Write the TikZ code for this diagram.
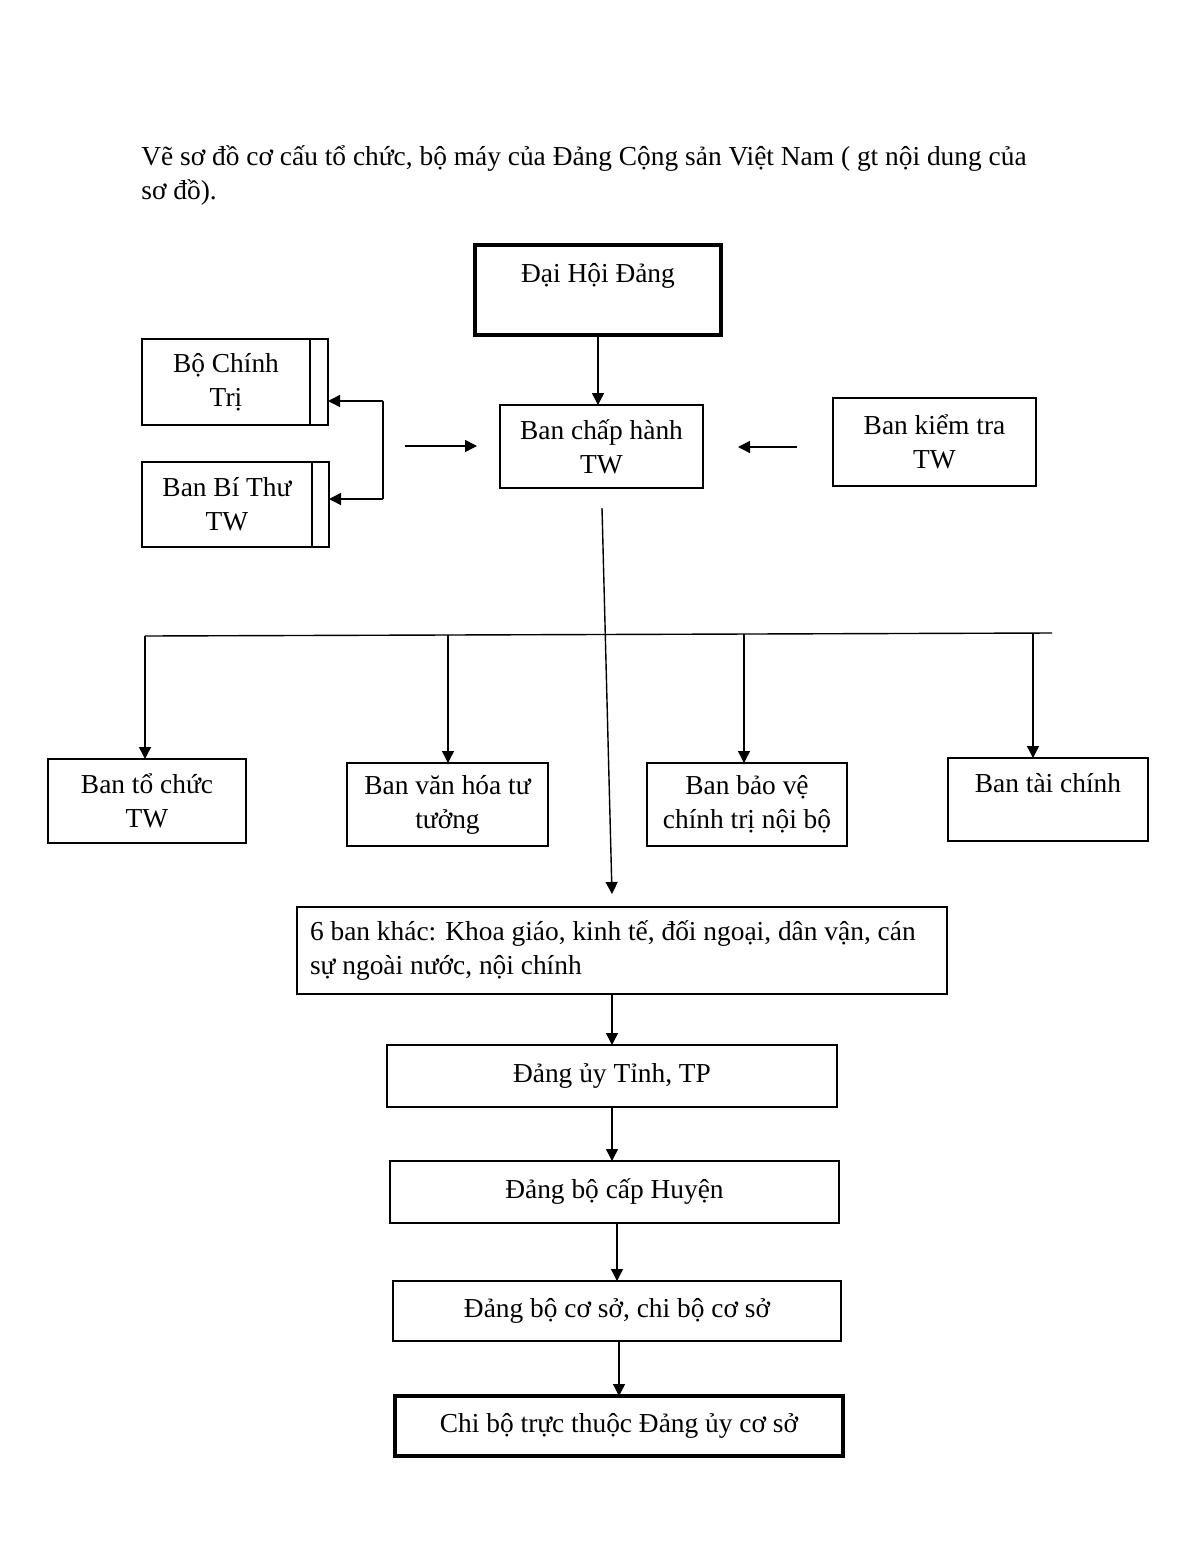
\documentclass[tikz,border=0pt]{standalone}
\usepackage{fontspec}
\setmainfont{Liberation Serif}
\usetikzlibrary{arrows.meta}
\begin{document}
\begin{tikzpicture}[x=0.5pt,y=-0.5pt,
  font=\fontsize{13.7}{17}\selectfont,
  box/.style={draw, line width=0.9pt, inner sep=0pt, outer sep=0pt, align=center},
  thickbox/.style={box, line width=1.8pt},
  conn/.style={line width=0.7pt, -{Triangle[length=6pt,width=6pt]}},
  plain/.style={line width=0.7pt}]
\useasboundingbox (0,0) rectangle (1200,1553);

% title
\node[anchor=west, align=left, inner sep=0pt] (title) at (141,175)
  {Vẽ sơ đồ cơ cấu tổ chức, bộ máy của Đảng Cộng sản Việt Nam ( gt nội dung của\\ sơ đồ).};

% boxes
\node[thickbox, minimum width=123pt, minimum height=45pt] (dh) at (598,290) {Đại Hội Đảng\\~};
\node[box, minimum width=84pt, minimum height=43pt] (bct) at (226,382) {Bộ Chính\\Trị};
\node[box, minimum width=9pt, minimum height=43pt, anchor=west] (bcts) at (bct.east) {};
\node[box, line width=1.1pt, minimum width=85pt, minimum height=42.5pt] (bbt) at (227,504.5) {Ban Bí Thư\\TW};
\node[box, line width=1.1pt, minimum width=8.5pt, minimum height=42.5pt, anchor=west] (bbts) at (bbt.east) {};
\node[box, minimum width=101.5pt, minimum height=41.5pt] (bch) at (601.5,446.5) {Ban chấp hành\\TW};
\node[box, minimum width=101.5pt, minimum height=44pt] (bkt) at (934.5,442) {Ban kiểm tra\\TW};

\node[box, minimum width=99pt, minimum height=42pt] (btc) at (147,801) {Ban tổ chức\\TW};
\node[box, line width=1.1pt, minimum width=100.5pt, minimum height=41.5pt] (bvh) at (447.5,804.5) {Ban văn hóa tư\\tưởng};
\node[box, line width=1.1pt, minimum width=100pt, minimum height=41.5pt] (bbv) at (747,804.5) {Ban bảo vệ\\chính trị nội bộ};
\node[box, minimum width=100pt, minimum height=41.5pt] (btch) at (1048,799.5) {Ban tài chính\\~};

\node[box, minimum width=325pt, minimum height=43.5pt, align=flush left, text width=312pt] (sixban) at (622,950.5)
  {6 ban khác: Khoa giáo, kinh tế, đối ngoại, dân vận, cán\\sự ngoài nước, nội chính};
\node[box, minimum width=225pt, minimum height=31pt] (du) at (612,1076) {\raisebox{3pt}{Đảng ủy Tỉnh, TP}};
\node[box, minimum width=224.5pt, minimum height=31pt] (huyen) at (614.5,1192) {\raisebox{3pt}{Đảng bộ cấp Huyện}};
\node[box, minimum width=224pt, minimum height=30pt] (coso) at (617,1311) {\raisebox{3pt}{Đảng bộ cơ sở, chi bộ cơ sở}};
\node[thickbox, minimum width=224pt, minimum height=30pt] (chibo) at (619,1426) {\raisebox{2pt}{Chi bộ trực thuộc Đảng ủy cơ sở}};

% connectors
\draw[conn] (dh.south) -- (dh.south |- bch.north);

\coordinate (br1) at (383,401);
\coordinate (br2) at (383,499);
\draw[plain] (br1) -- (br2);
\draw[conn] (br1) -- (bcts.east |- br1);
\draw[conn] (br2) -- (bbts.east |- br2);

\coordinate (la) at (405,446);
\coordinate (lb) at (477,446);
\draw[conn] (la) -- (lb);
\coordinate (ra) at (797,447);
\coordinate (rb) at (738,447);
\draw[conn] (ra) -- (rb);

\coordinate (t1) at (602,508);
\coordinate (t2) at (612,894);
\draw[conn] (t1) -- (t2);

\coordinate (h1) at (145,636);
\coordinate (h2) at (1052,633);
\draw[plain] (h1) -- (h2);
\coordinate (d2) at (448,635);
\coordinate (d3) at (744,634);
\coordinate (d4) at (1033,633);
\draw[conn] (h1) -- (h1 |- btc.north);
\draw[conn] (d2) -- (d2 |- bvh.north);
\draw[conn] (d3) -- (d3 |- bbv.north);
\draw[conn] (d4) -- (d4 |- btch.north);

\draw[conn] (sixban.south -| du.north) -- (du.north);
\draw[conn] (du.south) -- (du.south |- huyen.north);
\draw[conn] (huyen.south -| coso.north) -- (coso.north);
\draw[conn] (coso.south -| chibo.north) -- (chibo.north);
\end{tikzpicture}
\end{document}
